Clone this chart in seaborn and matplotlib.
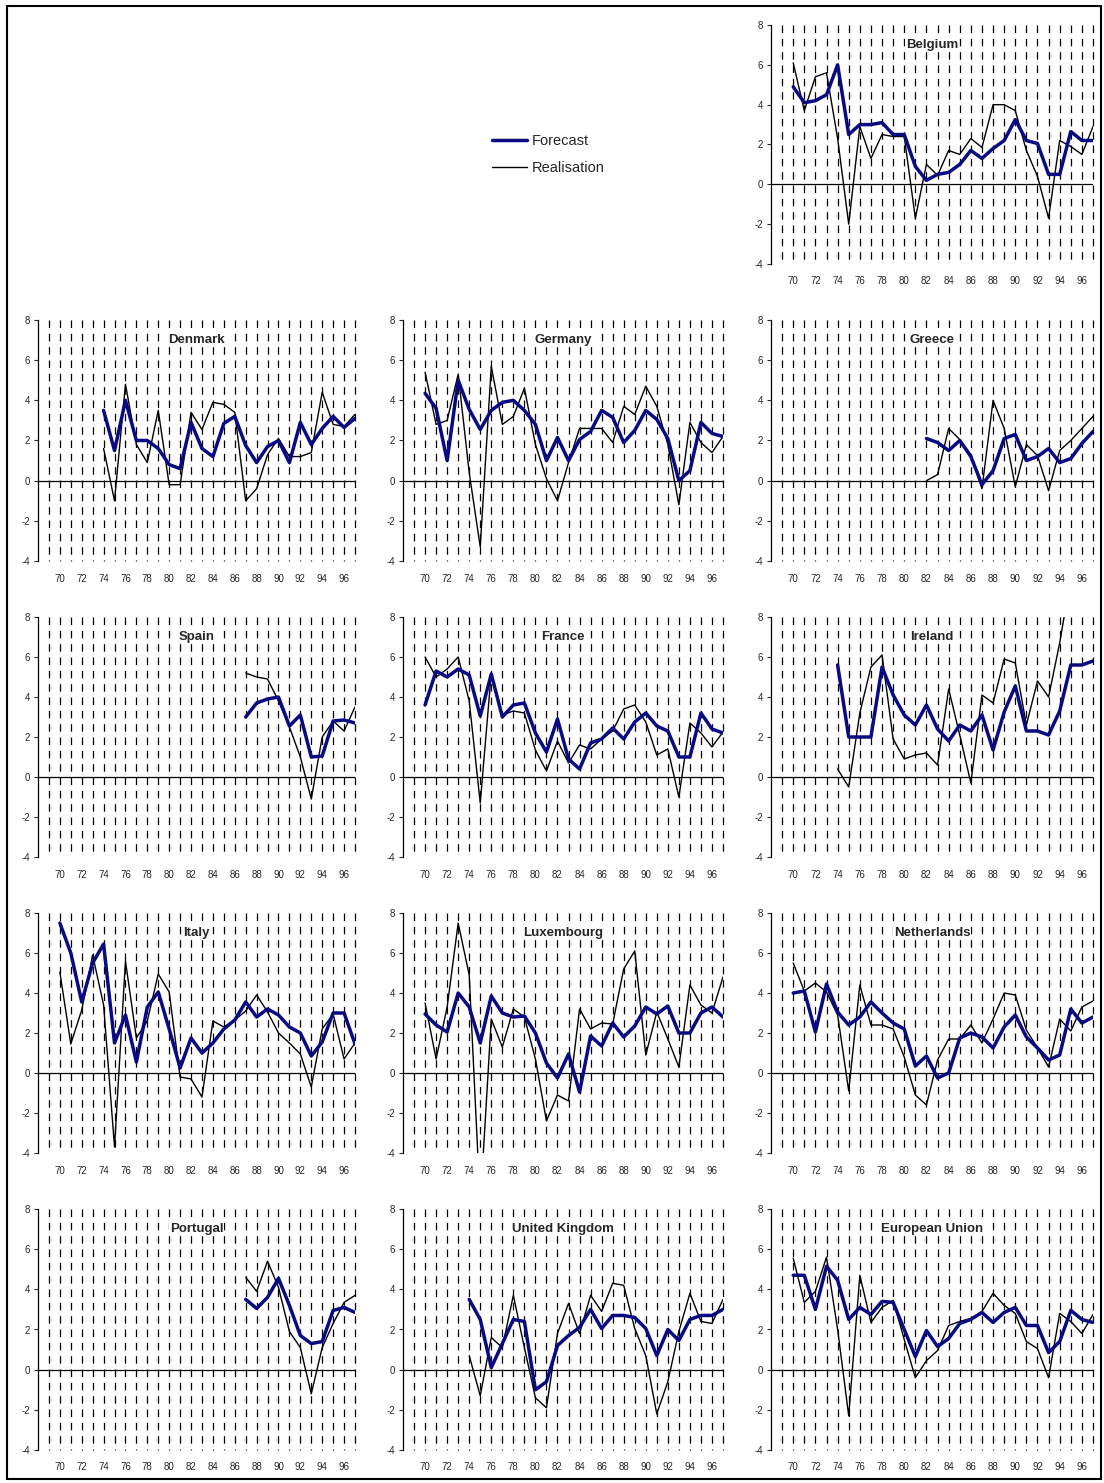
import numpy as np
import pandas as pd
import matplotlib
matplotlib.use("Agg")
import matplotlib.pyplot as plt
from matplotlib.lines import Line2D
from matplotlib.patches import Rectangle
import seaborn as sns

# Real GDP growth (%): forecasts vs. realisations, 1970-1997
YEARS = list(range(1970, 1998))
N = None

BEL_FC = [4.9, 4.1, 4.2, 4.5, 6.0, 2.5, 3.0, 3.0, 3.1, 2.5,
          2.5, 0.9, 0.2, 0.5, 0.6, 1.0, 1.7, 1.3, 1.8, 2.2,
          3.25, 2.2, 2.05, 0.5, 0.5, 2.65, 2.2, 2.2]
BEL_RE = [6.1, 3.7, 5.4, 5.6, 2.3, -2.0, 2.9, 1.3, 2.5, 2.4,
          2.4, -1.7, 1.0, 0.45, 1.7, 1.5, 2.3, 1.85, 4.0, 4.0,
          3.7, 1.7, 0.4, -1.7, 2.2, 1.9, 1.5, 2.9]

DNK_FC = [N, N, N, N, 3.5, 1.5, 4.0, 2.0, 2.0, 1.6,
          0.8, 0.6, 2.9, 1.6, 1.2, 2.85, 3.2, 1.75, 0.9, 1.7,
          2.0, 0.9, 2.9, 1.8, 2.6, 3.2, 2.65, 3.1]
DNK_RE = [N, N, N, N, 1.6, -1.0, 4.8, 1.8, 0.9, 3.5,
          -0.2, -0.2, 3.4, 2.55, 3.9, 3.8, 3.4, -1.0, -0.4, 1.3,
          2.1, 1.2, 1.2, 1.4, 4.4, 2.8, 2.7, 3.3]

DEU_FC = [4.35, 3.6, 1.0, 5.0, 3.55, 2.55, 3.5, 3.9, 4.0, 3.5,
          2.8, 1.0, 2.15, 1.0, 2.05, 2.45, 3.5, 3.15, 1.9, 2.5,
          3.5, 3.05, 2.1, 0.0, 0.5, 2.9, 2.35, 2.2]
DEU_RE = [5.4, 2.8, 3.0, 5.3, 0.4, -3.3, 5.7, 2.8, 3.2, 4.6,
          1.8, 0.1, -1.0, 0.9, 2.6, 2.6, 2.6, 1.9, 3.7, 3.3,
          4.7, 3.7, 1.8, -1.2, 2.9, 1.9, 1.4, 2.2]

GRC_FC = [N] * 12 + [2.1, 1.9, 1.5, 2.0, 1.2, -0.2, 0.5, 2.1,
                     2.3, 1.0, 1.2, 1.6, 0.9, 1.1, 1.85, 2.45]
GRC_RE = [N] * 12 + [0.0, 0.3, 2.6, 2.05, 1.3, -0.4, 4.0, 2.6,
                     -0.3, 1.8, 1.25, -0.5, 1.5, 2.0, 2.6, 3.2]

ESP_FC = [N] * 17 + [3.0, 3.7, 3.9,
                     4.0, 2.55, 3.1, 1.0, 1.05, 2.8, 2.85, 2.7]
ESP_RE = [N] * 17 + [5.2, 5.0, 4.9,
                     3.8, 2.5, 1.0, -1.1, 2.0, 2.8, 2.3, 3.5]

FRA_FC = [3.6, 5.3, 5.0, 5.4, 5.1, 3.05, 5.15, 3.0, 3.6, 3.7,
          2.2, 1.25, 2.9, 0.9, 0.4, 1.7, 1.9, 2.45, 1.9, 2.75,
          3.2, 2.55, 2.3, 1.0, 1.0, 3.2, 2.4, 2.2]
FRA_RE = [6.0, 5.0, 5.4, 6.0, 3.8, -1.3, 5.2, 3.1, 3.3, 3.2,
          1.35, 0.3, 1.8, 0.7, 1.6, 1.4, 1.9, 2.3, 3.4, 3.6,
          2.75, 1.1, 1.4, -1.0, 2.7, 2.2, 1.5, 2.25]

IRL_FC = [N, N, N, N, 5.6, 2.0, 2.0, 2.0, 5.5, 4.1,
          3.1, 2.6, 3.6, 2.4, 1.8, 2.6, 2.3, 3.1, 1.35, 3.25,
          4.55, 2.3, 2.3, 2.1, 3.3, 5.6, 5.6, 5.8]
IRL_RE = [N, N, N, N, 0.4, -0.5, 3.2, 5.5, 6.1, 1.9,
          0.9, 1.1, 1.2, 0.6, 4.4, 2.1, -0.3, 4.1, 3.7, 5.9,
          5.7, 2.6, 4.8, 4.0, 6.7, 10.0, 8.5, 10.5]

ITA_FC = [7.5, 6.0, 3.55, 5.5, 6.45, 1.5, 2.9, 0.55, 3.3, 4.05,
          2.2, 0.25, 1.75, 1.0, 1.5, 2.2, 2.65, 3.55, 2.8, 3.2,
          2.9, 2.3, 2.0, 0.85, 1.55, 3.0, 3.0, 1.45]
ITA_RE = [5.05, 1.45, 3.15, 5.9, 3.4, -3.7, 5.6, 1.75, 2.6, 4.95,
          4.05, -0.2, -0.3, -1.2, 2.6, 2.3, 2.65, 3.1, 3.9, 3.05,
          2.0, 1.5, 0.95, -0.7, 2.2, 2.95, 0.7, 1.5]

LUX_FC = [2.95, 2.4, 2.05, 4.0, 3.3, 1.5, 3.85, 3.0, 2.8, 2.85,
          2.0, 0.5, -0.25, 0.95, -0.95, 1.85, 1.35, 2.5, 1.8, 2.35,
          3.3, 2.95, 3.35, 2.0, 2.0, 3.0, 3.3, 2.8]
LUX_RE = [3.5, 0.7, 3.3, 7.5, 4.9, -6.6, 2.7, 1.3, 3.2, 2.8,
          0.7, -2.4, -1.1, -1.4, 3.2, 2.2, 2.5, 2.45, 5.2, 6.1,
          0.9, 3.05, 1.7, 0.3, 4.4, 3.4, 3.0, 4.8]

NLD_FC = [4.0, 4.1, 2.05, 4.45, 3.05, 2.4, 2.8, 3.55, 3.0, 2.5,
          2.2, 0.35, 0.85, -0.25, 0.0, 1.75, 2.0, 1.8, 1.25, 2.3,
          2.9, 1.8, 1.25, 0.65, 0.9, 3.2, 2.5, 2.8]
NLD_RE = [5.5, 4.1, 4.5, 4.05, 2.9, -0.9, 4.4, 2.4, 2.4, 2.2,
          0.8, -1.1, -1.6, 0.65, 1.7, 1.7, 2.4, 1.5, 2.7, 4.0,
          3.9, 2.15, 1.25, 0.3, 2.7, 2.1, 3.3, 3.6]

PRT_FC = [N] * 17 + [3.5, 3.05, 3.6,
                     4.55, 3.2, 1.7, 1.3, 1.4, 2.95, 3.1, 2.85]
PRT_RE = [N] * 17 + [4.6, 3.9, 5.4,
                     4.1, 1.9, 1.1, -1.2, 1.1, 2.3, 3.35, 3.7]

GBR_FC = [N, N, N, N, 3.5, 2.5, 0.1, 1.3, 2.5, 2.4,
          -1.0, -0.6, 1.2, 1.7, 2.1, 3.0, 2.05, 2.7, 2.7, 2.6,
          2.05, 0.7, 2.0, 1.45, 2.5, 2.7, 2.7, 3.0]
GBR_RE = [N, N, N, N, 0.7, -1.3, 1.6, 1.1, 3.7, 1.1,
          -1.4, -1.9, 1.8, 3.3, 1.8, 3.7, 2.9, 4.3, 4.2, 2.05,
          0.7, -2.2, -0.6, 1.9, 3.8, 2.4, 2.3, 3.5]

EU_FC = [4.7, 4.7, 3.0, 5.15, 4.45, 2.5, 3.1, 2.75, 3.4, 3.35,
         2.0, 0.65, 1.95, 1.15, 1.55, 2.3, 2.5, 2.85, 2.35, 2.85,
         3.1, 2.2, 2.2, 0.85, 1.4, 2.95, 2.5, 2.35]
EU_RE = [5.55, 3.35, 3.9, 5.6, 2.0, -2.3, 4.7, 2.35, 3.1, 3.45,
         1.5, -0.4, 0.45, 0.95, 2.2, 2.4, 2.55, 2.9, 3.8, 3.2,
         2.8, 1.4, 1.05, -0.4, 2.8, 2.4, 1.8, 2.75]

COUNTRIES = ["Belgium", "Denmark", "Germany", "Greece", "Spain", "France",
             "Ireland", "Italy", "Luxembourg", "Netherlands", "Portugal",
             "United Kingdom", "European Union"]
FORECASTS = [BEL_FC, DNK_FC, DEU_FC, GRC_FC, ESP_FC, FRA_FC, IRL_FC,
             ITA_FC, LUX_FC, NLD_FC, PRT_FC, GBR_FC, EU_FC]
REALISATIONS = [BEL_RE, DNK_RE, DEU_RE, GRC_RE, ESP_RE, FRA_RE, IRL_RE,
                ITA_RE, LUX_RE, NLD_RE, PRT_RE, GBR_RE, EU_RE]
XTICKS = list(range(1970, 1997, 2))
XTICKLABELS = [f"{y % 100:02d}" for y in XTICKS]
YTICKS = [-4, -2, 0, 2, 4, 6, 8]

FC_COLOR = "#0a0a82"
RE_COLOR = "#000000"

sns.set_style("white")
plt.rcParams["font.family"] = ["Liberation Sans", "DejaVu Sans"]
plt.rcParams["lines.scale_dashes"] = False
plt.rcParams["axes.unicode_minus"] = False

W, H = 1104, 1483
fig = plt.figure(figsize=(W / 100, H / 100), dpi=100)

# panel grid in pixel coordinates
col_left = [38, 403, 771]
col_right = [355, 723, 1093]
row_top = [25, 320, 617, 913, 1209]
row_bot = [264, 561, 857, 1153, 1450]
slots = [(0, 2), (1, 0), (1, 1), (1, 2), (2, 0), (2, 1), (2, 2),
         (3, 0), (3, 1), (3, 2), (4, 0), (4, 1), (4, 2)]


def long_frame(values, kind):
    df = pd.DataFrame({"year": YEARS, "growth": values, "series": kind})
    df["growth"] = pd.to_numeric(df["growth"])
    return df.dropna()


for name, fc, re_, (r, c) in zip(COUNTRIES, FORECASTS, REALISATIONS, slots):
    l, rgt, t, b = col_left[c], col_right[c], row_top[r], row_bot[r]
    ax = fig.add_axes([l / W, 1 - b / H, (rgt - l) / W, (b - t) / H])
    ax.set_xlim(1968, 1997)
    ax.set_ylim(-4, 8)

    # dashed year gridlines
    ax.vlines(range(1969, 1998), 8, -4, colors="black", linewidth=0.9,
              linestyles=[(0, (5.4, 4.2))], zorder=1, clip_on=False)
    ax.axhline(0, color="black", linewidth=0.9, zorder=2)

    sns.lineplot(data=long_frame(re_, "Realisation"), x="year", y="growth",
                 color=RE_COLOR, linewidth=1.0, ax=ax, zorder=3,
                 estimator=None, sort=True)
    sns.lineplot(data=long_frame(fc, "Forecast"), x="year", y="growth",
                 color=FC_COLOR, linewidth=2.5, ax=ax, zorder=4,
                 estimator=None, sort=True)

    ax.text(0.5, 7.0, name, transform=ax.get_yaxis_transform(),
            ha="center", va="center", fontsize=9.5, fontweight="bold",
            bbox=dict(facecolor="white", edgecolor="none", pad=0.6),
            zorder=5)

    ax.set_xlabel("")
    ax.set_ylabel("")
    ax.set_xticks(XTICKS)
    ax.set_xticklabels(XTICKLABELS)
    ax.set_yticks(YTICKS)
    ax.tick_params(axis="x", length=0, pad=9, labelsize=7)
    ax.tick_params(axis="y", length=3, width=0.8, direction="out",
                   pad=2.5, labelsize=7, left=True)
    for side in ("top", "right", "bottom"):
        ax.spines[side].set_visible(False)
    ax.spines["left"].set_color("black")
    ax.spines["left"].set_linewidth(0.9)
    ax.grid(False)
    ax.set_facecolor("none")

# legend
handles = [Line2D([], [], color=FC_COLOR, linewidth=2.5),
           Line2D([], [], color=RE_COLOR, linewidth=1.0)]
fig.legend(handles, ["Forecast", "Realisation"], loc="center left",
           bbox_to_anchor=(492 / W, 1 - 154.5 / H), frameon=False,
           fontsize=10.5, handlelength=2.4, handletextpad=0.35,
           labelspacing=0.85, borderpad=0, borderaxespad=0)

# outer frame
fig.patches.append(Rectangle((7 / W, 1 - 1479 / H), (1101 - 7) / W,
                             (1479 - 6) / H, transform=fig.transFigure,
                             fill=False, edgecolor="black", linewidth=1.5))

fig.savefig("out.png", dpi=100)
